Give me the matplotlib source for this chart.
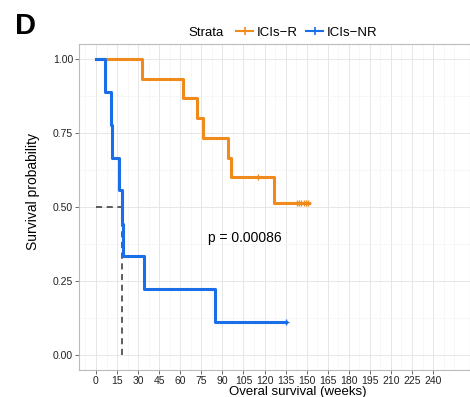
import matplotlib.pyplot as plt
from matplotlib.lines import Line2D
import numpy as np

plt.rcParams['font.family'] = ['Liberation Sans', 'DejaVu Sans']

# kaplan-meier steps
r_time = [0, 33, 62, 72, 76, 94, 96, 127, 152]
r_surv = [1.0, 0.933, 0.867, 0.800, 0.733, 0.667, 0.600, 0.514, 0.514]
r_cens_t = [115.6, 143, 144.6, 146.2, 147.8, 149.4, 151]
r_cens_s = [0.600, 0.514, 0.514, 0.514, 0.514, 0.514, 0.514]

nr_time = [0, 6.5, 10.7, 11.6, 16.4, 18.3, 19.5, 34.4, 84.5, 135]
nr_surv = [1.0, 0.889, 0.778, 0.667, 0.556, 0.444, 0.333, 0.222, 0.111, 0.111]
nr_cens_t = [135]
nr_cens_s = [0.111]

median_nr = 18.3
p_text = 'p = 0.00086'
c_r = '#F08A1A'
c_nr = '#1A6FE8'

fig = plt.figure(figsize=(4.7, 3.97), dpi=100)
ax = fig.add_axes([79/470, 27/397, 391/470, 326/397])

ax.step(r_time, r_surv, where='post', color=c_r, lw=2.2, zorder=3)
ax.plot(r_cens_t, r_cens_s, '+', color=c_r, ms=4.5, mew=1.0, zorder=3)
ax.step(nr_time, nr_surv, where='post', color=c_nr, lw=2.2, zorder=4)
ax.plot(nr_cens_t, nr_cens_s, '+', color=c_nr, ms=4.5, mew=1.0, zorder=4)

# median line
ax.plot([0, median_nr], [0.5, 0.5], ls=(0, (4, 3)), color='#333333', lw=1.1, zorder=2)
ax.plot([median_nr, median_nr], [0, 0.5], ls=(0, (4, 3)), color='#333333', lw=1.1, zorder=2)

ax.text(80, 0.395, p_text, fontsize=10, va='center', ha='left')

ax.set_xlim(-12.1, 266.3)
ax.set_ylim(-0.05, 1.05)
ax.set_xticks(np.arange(0, 241, 15))
ax.set_xticks(np.arange(-7.5, 260, 7.5), minor=True)
ax.set_yticks([0, 0.25, 0.5, 0.75, 1.0])
ax.set_yticklabels(['0.00', '0.25', '0.50', '0.75', '1.00'])
ax.set_yticks([0.125, 0.375, 0.625, 0.875], minor=True)
ax.grid(which='major', color='#E3E3E3', lw=0.6)
ax.grid(which='minor', color='#F2F2F2', lw=0.4)
ax.set_axisbelow(True)
ax.tick_params(which='major', labelsize=7.5, colors='#555555', labelcolor='#222222',
               length=3, width=0.6, pad=1.2)
ax.tick_params(which='minor', length=0)
for sp in ax.spines.values():
    sp.set_color('#BBBBBB')
    sp.set_linewidth(0.8)

ax.set_ylabel('Survival probability', fontsize=10)
ax.yaxis.set_label_coords(-(79 - 40) / 391, (370 - 192) / 326)
ax.set_xlabel('Overal survival (weeks)', fontsize=9.5)
ax.xaxis.set_label_coords((298 - 79) / 391, -(385.5 - 370) / 326)

fig.text(15/470, 1 - 34/397, 'D', fontsize=21, fontweight='bold')

fig.text(206/470, 1 - 33/397, 'Strata', fontsize=9.5, ha='center', va='center')
handles = [Line2D([], [], color=c_r, lw=1.5, marker='+', ms=6, mew=1.2),
           Line2D([], [], color=c_nr, lw=1.5, marker='+', ms=6, mew=1.2)]
fig.legend(handles, ['ICIs\u2212R', 'ICIs\u2212NR'], ncol=2, frameon=False,
           loc='center left', bbox_to_anchor=(236/470, 1 - 33/397),
           fontsize=9.5, handlelength=1.3, handletextpad=0.3, columnspacing=0.6,
           borderpad=0, borderaxespad=0)

fig.savefig('out.png', dpi=100)
